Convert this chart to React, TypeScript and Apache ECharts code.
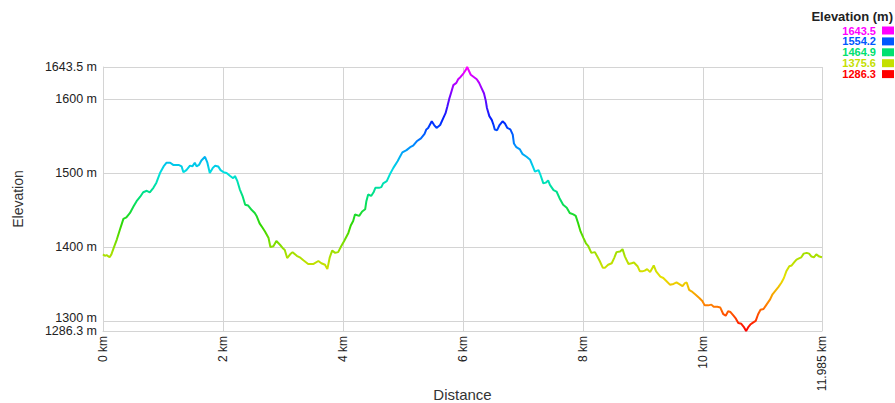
import React, { useEffect, useRef } from "react";
import * as echarts from "echarts";

const distancesKm: number[] = [
  0.0, 0.03, 0.06, 0.11, 0.14, 0.18, 0.23, 0.28, 0.34, 0.39, 0.45, 0.51, 0.56, 0.62, 0.67, 0.73, 0.78, 0.84, 0.89, 0.95,
  1.01, 1.06, 1.12, 1.17, 1.26, 1.31, 1.34, 1.39, 1.45, 1.49, 1.53, 1.56, 1.6, 1.64, 1.7, 1.74, 1.78, 1.83, 1.87, 1.92,
  1.96, 2.01, 2.06, 2.12, 2.17, 2.2, 2.24, 2.28, 2.33, 2.37, 2.42, 2.48, 2.53, 2.56, 2.61, 2.66, 2.7, 2.76, 2.79, 2.84,
  2.89, 2.95, 2.99, 3.03, 3.07, 3.12, 3.16, 3.23, 3.28, 3.34, 3.42, 3.51, 3.59, 3.64, 3.7, 3.74, 3.78, 3.82, 3.87, 3.92,
  3.97, 4.02, 4.09, 4.13, 4.17, 4.2, 4.27, 4.32, 4.37, 4.39, 4.42, 4.47, 4.51, 4.54, 4.6, 4.64, 4.67, 4.73, 4.78, 4.84,
  4.91, 4.95, 4.99, 5.06, 5.12, 5.17, 5.23, 5.3, 5.36, 5.39, 5.42, 5.48, 5.52, 5.56, 5.62, 5.67, 5.71, 5.74, 5.77, 5.8,
  5.84, 5.89, 5.92, 5.96, 6.01, 6.05, 6.07, 6.13, 6.18, 6.23, 6.27, 6.31, 6.35, 6.38, 6.4, 6.44, 6.48, 6.51, 6.53, 6.57,
  6.61, 6.66, 6.7, 6.74, 6.79, 6.83, 6.85, 6.89, 6.95, 6.99, 7.06, 7.12, 7.16, 7.2, 7.26, 7.29, 7.34, 7.38, 7.42, 7.45,
  7.51, 7.56, 7.61, 7.67, 7.73, 7.78, 7.84, 7.88, 7.92, 7.96, 8.01, 8.05, 8.09, 8.14, 8.2, 8.24, 8.28, 8.33, 8.37, 8.42,
  8.48, 8.52, 8.56, 8.62, 8.66, 8.7, 8.76, 8.81, 8.85, 8.91, 8.95, 8.99, 9.03, 9.07, 9.12, 9.16, 9.18, 9.22, 9.26, 9.29,
  9.34, 9.39, 9.45, 9.51, 9.56, 9.62, 9.66, 9.7, 9.73, 9.77, 9.81, 9.87, 9.94, 9.99, 10.03, 10.09, 10.14, 10.18, 10.24, 10.29,
  10.34, 10.38, 10.42, 10.46, 10.51, 10.55, 10.59, 10.64, 10.68, 10.72, 10.76, 10.79, 10.84, 10.88, 10.92, 10.96, 11.01, 11.06, 11.12, 11.16,
  11.2, 11.26, 11.31, 11.35, 11.39, 11.44, 11.48, 11.52, 11.56, 11.61, 11.64, 11.68, 11.73, 11.77, 11.81, 11.85, 11.89, 11.94, 11.985,
];

const elevationsM: number[] = [
  1390, 1388, 1389, 1386, 1390, 1399, 1410, 1423, 1438, 1440, 1446, 1455, 1462, 1468, 1474, 1476, 1474, 1480, 1487, 1500,
  1509, 1514, 1514, 1511, 1511, 1509, 1501, 1504, 1510, 1509, 1514, 1509, 1511, 1517, 1522, 1514, 1500, 1507, 1510, 1509,
  1504, 1501, 1500, 1496, 1493, 1496, 1489, 1478, 1468, 1457, 1456, 1450, 1446, 1442, 1432, 1426, 1421, 1412, 1400, 1401,
  1408, 1403, 1399, 1396, 1385, 1390, 1393, 1388, 1386, 1382, 1377, 1377, 1381, 1378, 1376, 1370, 1386, 1395, 1392, 1393,
  1401, 1408, 1419, 1429, 1435, 1444, 1442, 1448, 1451, 1462, 1471, 1469, 1474, 1480, 1480, 1481, 1486, 1489, 1498, 1507,
  1516, 1522, 1528, 1531, 1535, 1537, 1543, 1547, 1553, 1559, 1561, 1570, 1565, 1561, 1565, 1574, 1581, 1590, 1600, 1608,
  1619, 1622, 1627, 1630, 1635, 1640, 1643.5, 1633, 1630, 1627, 1622, 1615, 1608, 1598, 1588, 1577, 1572, 1565, 1559, 1558,
  1565, 1570, 1567, 1561, 1559, 1552, 1540, 1535, 1532, 1526, 1522, 1518, 1510, 1502, 1504, 1498, 1486, 1487, 1490, 1484,
  1477, 1475, 1466, 1457, 1453, 1446, 1444, 1442, 1432, 1421, 1412, 1405, 1401, 1392, 1393, 1387, 1381, 1372, 1372, 1376,
  1378, 1385, 1393, 1394, 1397, 1387, 1377, 1378, 1379, 1374, 1367, 1367, 1368, 1370, 1366, 1372, 1375, 1367, 1363, 1360,
  1358, 1354, 1349, 1350, 1352, 1349, 1347, 1351, 1352, 1342, 1340, 1336, 1331, 1327, 1321, 1321, 1322, 1319, 1319, 1318,
  1309, 1307, 1313, 1312, 1307, 1303, 1297, 1296, 1292, 1286.3, 1292, 1295, 1298, 1300, 1309, 1315, 1316, 1322, 1329, 1336,
  1340, 1346, 1352, 1358, 1367, 1374, 1375, 1379, 1383, 1385, 1386, 1391, 1392, 1391, 1387, 1386, 1390, 1387, 1386,
];

const xTickValues: number[] = [0, 2, 4, 6, 8, 10, 11.985];
const yTickValues: number[] = [1286.3, 1300, 1400, 1500, 1600, 1643.5];
const legendValues: number[] = [1643.5, 1554.2, 1464.9, 1375.6, 1286.3];
const legendTitle = "Elevation (m)";
const xAxisName = "Distance";
const yAxisName = "Elevation";

const rampColors: string[] = [
  "#ff0000", "#ff8000", "#e8e000", "#a0e000", "#30d800", "#00e070",
  "#00e0e0", "#0090ff", "#0020ff", "#8000ff", "#ff00ff",
];

const FONT = '"Liberation Sans", Arial, sans-serif';

function hexToRgb(h: string): number[] {
  const v = parseInt(h.slice(1), 16);
  return [(v >> 16) & 255, (v >> 8) & 255, v & 255];
}
function rampAt(t: number): string {
  const tt = Math.max(0, Math.min(1, t)) * (rampColors.length - 1);
  const i = Math.min(Math.floor(tt), rampColors.length - 2);
  const f = tt - i;
  const a = hexToRgb(rampColors[i]);
  const b = hexToRgb(rampColors[i + 1]);
  const c = a.map((x, k) => Math.round(x + (b[k] - x) * f));
  return `rgb(${c[0]},${c[1]},${c[2]})`;
}

export default function App() {
  const ref = useRef<HTMLDivElement>(null);
  useEffect(() => {
    if (!ref.current) return;
    const chart = echarts.init(ref.current, null, { renderer: "svg" });
    const yMin = Math.min(...elevationsM);
    const yMax = Math.max(...elevationsM);
    const xMax = distancesKm[distancesKm.length - 1];
    const data = distancesKm.map((d, i) => [d, elevationsM[i]]);
    const mainYLabels = yTickValues.filter((v) => v !== yMin);
    const minYLabels = yTickValues.filter((v) => v === yMin);
    const lowestMain = Math.min(...mainYLabels);

    const legendGraphics: any[] = [
      {
        type: "text",
        x: 893,
        y: 16,
        style: { text: legendTitle, align: "right", verticalAlign: "middle", font: `bold 13px ${FONT}`, fill: "#222" },
      },
    ];
    legendValues.forEach((v, i) => {
      const col = rampAt((v - yMin) / (yMax - yMin));
      const cy = 30.5 + i * 10.9;
      legendGraphics.push({
        type: "text",
        x: 876,
        y: cy,
        style: { text: v.toFixed(1), align: "right", verticalAlign: "middle", font: `bold 11px ${FONT}`, lineHeight: 10, fill: col },
      });
      legendGraphics.push({
        type: "rect",
        shape: { x: 882, y: cy - 4, width: 12, height: 8 },
        style: { fill: col },
      });
    });

    const yLabelStyle = {
      margin: 6,
      showMinLabel: true,
      showMaxLabel: true,
      hideOverlap: false,
      fontFamily: FONT,
      fontSize: 12.5,
      color: "#222",
    };

    chart.setOption({
      animation: false,
      backgroundColor: "#ffffff",
      grid: { left: 103, right: 73, top: 67, bottom: 72, containLabel: false, outerBoundsMode: "none" },
      visualMap: {
        type: "continuous",
        show: false,
        dimension: 1,
        seriesIndex: 0,
        min: yMin,
        max: yMax,
        inRange: { color: rampColors },
      },
      xAxis: {
        type: "value",
        min: 0,
        max: xMax,
        name: xAxisName,
        nameLocation: "middle",
        nameGap: 56,
        nameMoveOverlap: false,
        nameTextStyle: { fontFamily: FONT, fontSize: 15, color: "#333" },
        axisLine: { show: true, lineStyle: { color: "#d4d4d4", width: 1 } },
        axisTick: { show: false, customValues: xTickValues },
        splitLine: { show: true, lineStyle: { color: "#d4d4d4", width: 1 } },
        axisLabel: {
          customValues: xTickValues,
          rotate: 90,
          margin: 5,
          showMinLabel: true,
          showMaxLabel: true,
          hideOverlap: false,
          fontFamily: FONT,
          fontSize: 12,
          color: "#222",
          formatter: (v: number) => `${v} km`,
        },
      },
      yAxis: [
        {
          type: "value",
          min: yMin,
          max: yMax,
          position: "left",
          name: yAxisName,
          nameLocation: "middle",
          nameGap: 78,
          nameRotate: 90,
          nameMoveOverlap: false,
          nameTextStyle: { fontFamily: FONT, fontSize: 14, color: "#333" },
          axisLine: { show: true, lineStyle: { color: "#d4d4d4", width: 1 } },
          axisTick: { show: false, customValues: yTickValues },
          splitLine: { show: true, lineStyle: { color: "#d4d4d4", width: 1 } },
          axisLabel: {
            ...yLabelStyle,
            customValues: mainYLabels,
            formatter: (v: number) => (v === lowestMain ? `{up|${v} m}` : `${v} m`),
            rich: { up: { fontFamily: FONT, fontSize: 12.5, color: "#222", padding: [0, 0, 5, 0] } },
          },
        },
        {
          type: "value",
          min: yMin,
          max: yMax,
          position: "left",
          offset: 0,
          axisLine: { show: false },
          axisTick: { show: false, customValues: minYLabels },
          splitLine: { show: false },
          axisLabel: {
            ...yLabelStyle,
            customValues: minYLabels,
            padding: [3, 0, 0, 0],
            formatter: (v: number) => `${v} m`,
          },
        },
      ],
      series: [
        {
          type: "line",
          data,
          yAxisIndex: 0,
          showSymbol: false,
          lineStyle: { width: 2 },
          z: 3,
        },
      ],
      graphic: legendGraphics,
    });
    return () => chart.dispose();
  }, []);
  return (
    <div
      ref={ref}
      style={{ position: "fixed", left: 0, top: 0, width: 895, height: 403, background: "#fff" }}
    />
  );
}
